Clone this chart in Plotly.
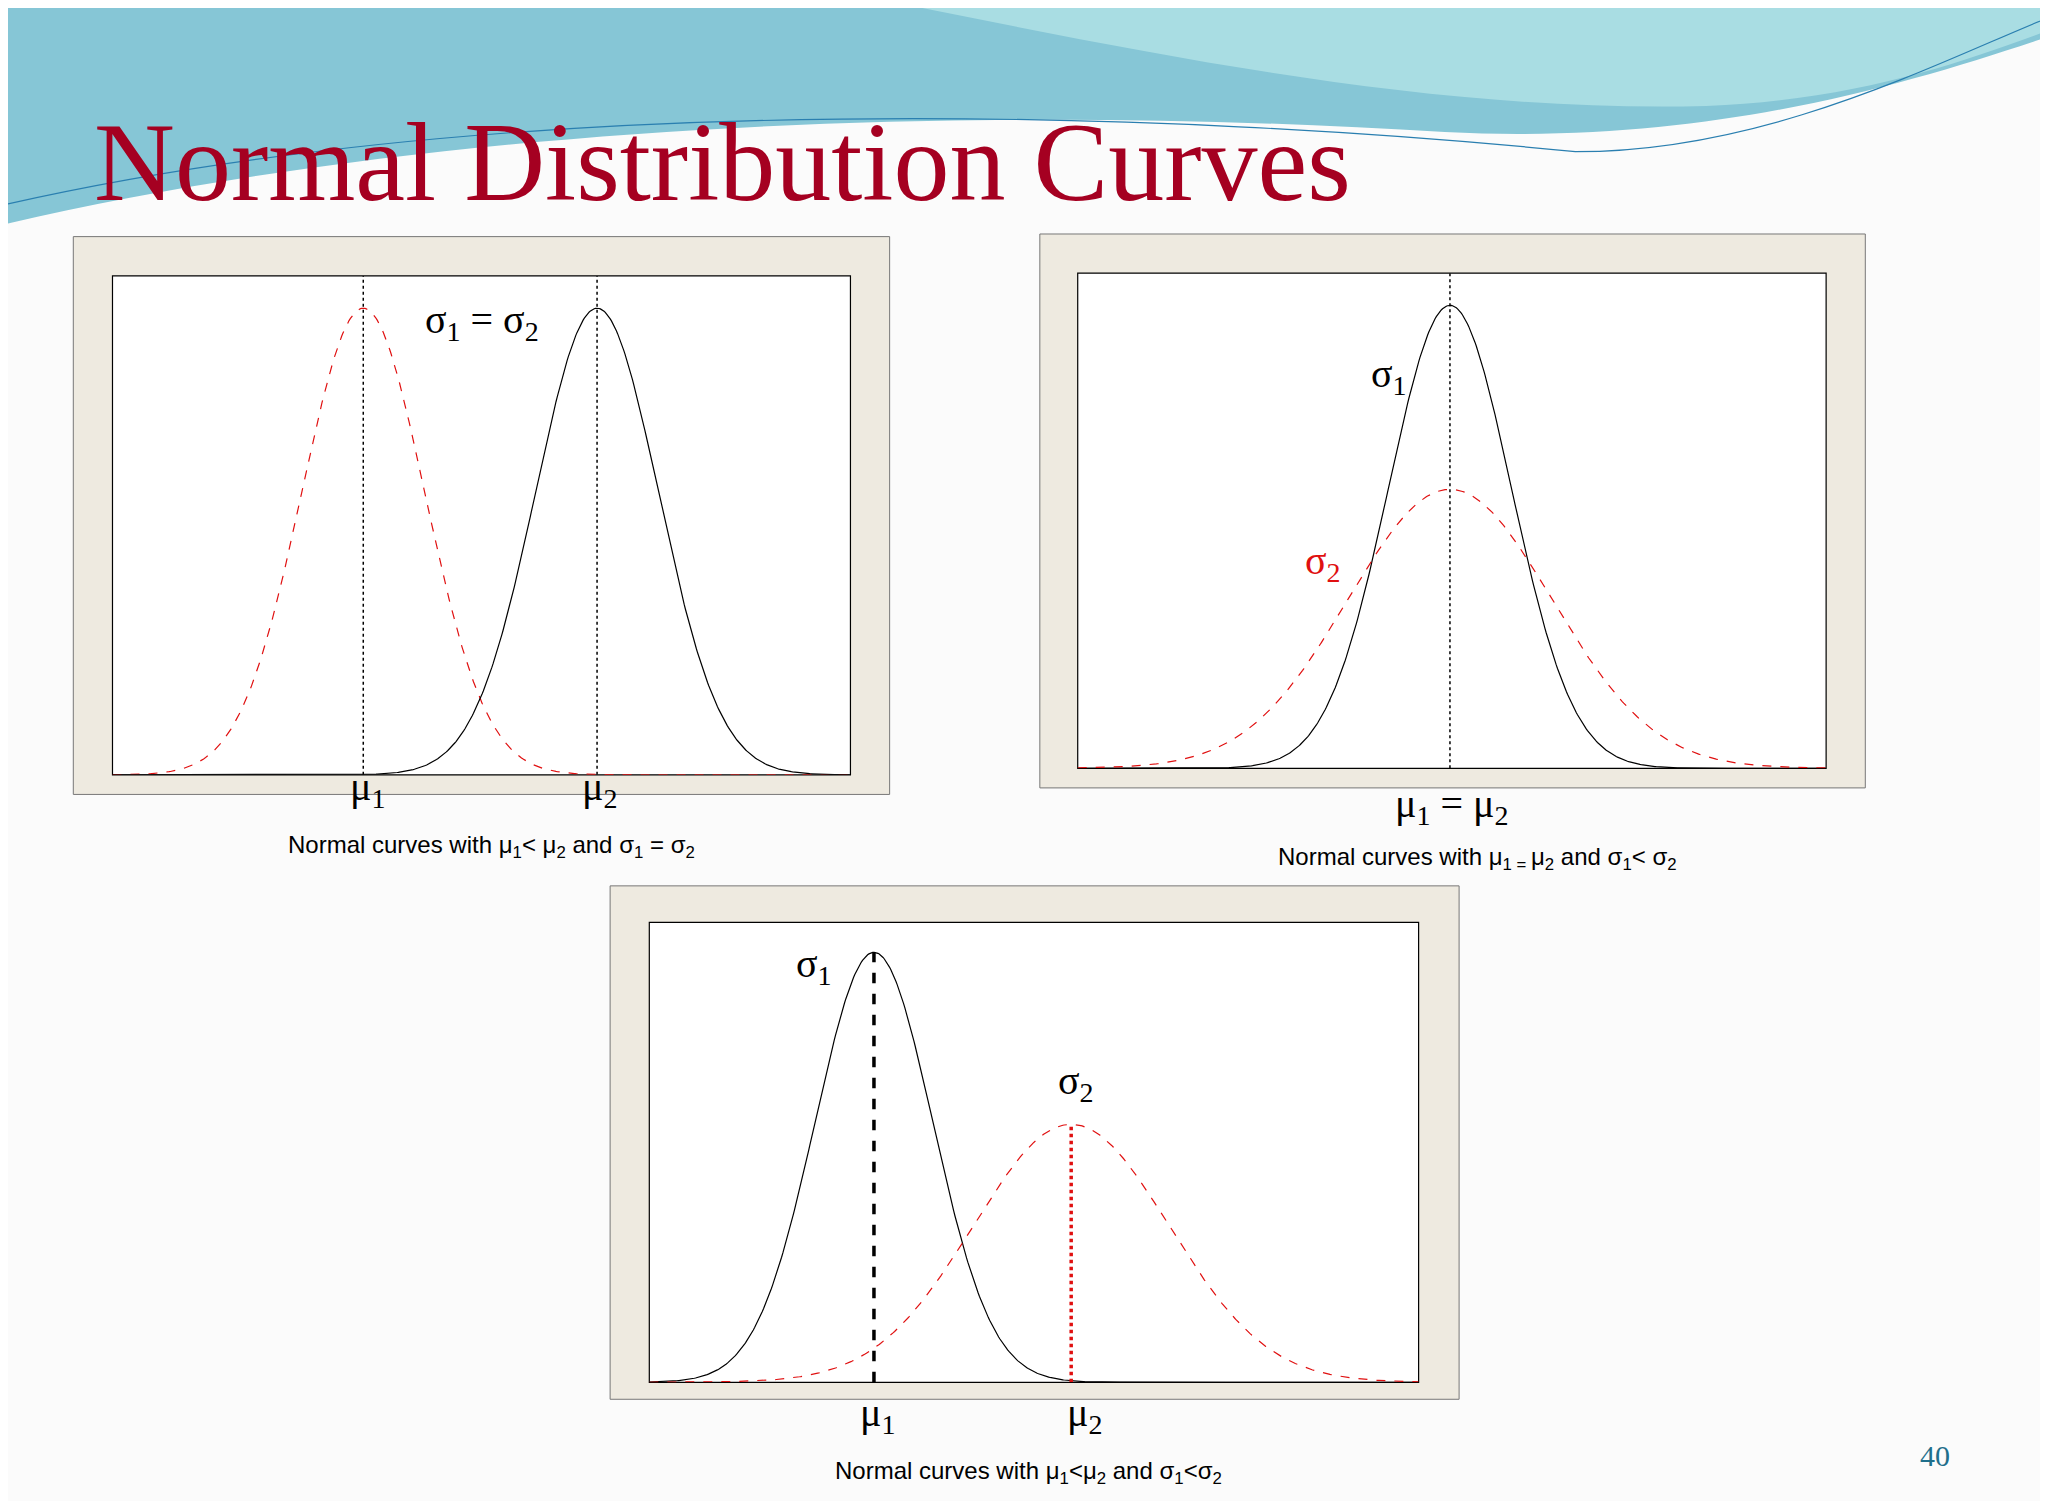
import numpy as np
import plotly.graph_objects as go

W, H = 1568.0, 1149.0
def px(x): return x / W
def py(y): return 1 - y / H

# Panel parameters (x in panel units = reference pixels from left of plot area)
p1_mu = [192, 371]; p1_sigma = [47, 47]
p2_mu = [285, 285]; p2_sigma = [47, 78]
p3_mu = [172, 323]; p3_sigma = [45, 75]
widths = [565, 573, 589]
caption_texts = ["Normal curves with μ<sub>1</sub>< μ<sub>2</sub> and σ<sub>1</sub> = σ<sub>2</sub>",
                 "Normal curves with μ<sub>1 = </sub>μ<sub>2</sub> and σ<sub>1</sub>< σ<sub>2</sub>",
                 "Normal curves with μ<sub>1</sub><μ<sub>2</sub> and σ<sub>1</sub><σ<sub>2</sub>"]

def pdf(x, m, s):
    return np.exp(-0.5 * ((x - m) / s) ** 2) / (s * np.sqrt(2 * np.pi))

fig = go.Figure()
RED = "#e01010"
panels = [
    dict(inner=(80, 205, 645, 587), outer=(50, 175, 675, 602), mu=p1_mu, sg=p1_sigma, w=widths[0]),
    dict(inner=(819, 203, 1392, 582), outer=(790, 173, 1422, 597), mu=p2_mu, sg=p2_sigma, w=widths[1]),
    dict(inner=(491, 700, 1080, 1052), outer=(461, 672, 1111, 1065), mu=p3_mu, sg=p3_sigma, w=widths[2]),
]
shapes = []
shapes.append(dict(type="path", xref="paper", yref="paper",
    path=f"M 0 1 L 0 {py(165)} C {px(300)} {py(95)}, {px(700)} {py(70)}, {px(1100)} {py(95)} C {px(1300)} {py(105)}, {px(1450)} {py(60)}, 1 {py(20)} L 1 1 Z",
    fillcolor="#86c6d6", line=dict(width=0), layer="below"))
shapes.append(dict(type="path", xref="paper", yref="paper",
    path=f"M {px(700)} 1 C {px(900)} {py(40)}, {px(1100)} {py(80)}, {px(1300)} {py(75)} C {px(1420)} {py(70)}, {px(1500)} {py(40)}, 1 {py(15)} L 1 1 Z",
    fillcolor="#a9dde3", line=dict(width=0), layer="below"))
shapes.append(dict(type="path", xref="paper", yref="paper",
    path=f"M 0 {py(150)} C {px(400)} {py(60)}, {px(900)} {py(80)}, {px(1200)} {py(110)} C {px(1350)} {py(110)}, {px(1480)} {py(40)}, 1 {py(5)}",
    line=dict(color="#2a7fb0", width=1.2)))

for i, p in enumerate(panels):
    k = "" if i == 0 else str(i + 1)
    ox0, oy0, ox1, oy1 = p["outer"]
    shapes.append(dict(type="rect", xref="paper", yref="paper", x0=px(ox0), x1=px(ox1), y0=py(oy1), y1=py(oy0),
                       fillcolor="#eeeae0", line=dict(color="#777", width=1), layer="below"))
    x0, y0, x1, y1 = p["inner"]
    shapes.append(dict(type="rect", xref="paper", yref="paper", x0=px(x0), x1=px(x1), y0=py(y1), y1=py(y0),
                       fillcolor="white", line=dict(color="black", width=1.2), layer="below"))
    ymax = pdf(0, 0, min(p["sg"])) / 0.935
    fig.update_layout(**{f"xaxis{k}": dict(domain=[px(x0), px(x1)], range=[0, p["w"]], showgrid=False, zeroline=False,
                                           anchor=f"y{k}", showticklabels=False, ticks="", showline=False),
                         f"yaxis{k}": dict(domain=[py(y1), py(y0)], range=[0, ymax], showgrid=False, zeroline=False,
                                           anchor=f"x{k}", showticklabels=False, ticks="", showline=False)})
    xs = np.linspace(0, p["w"], 600)
    xa, ya = f"x{k}", f"y{k}"
    if i == 0:
        fig.add_trace(go.Scatter(x=xs, y=pdf(xs, p["mu"][0], p["sg"][0]), mode="lines", line=dict(color=RED, dash="dash", width=1.2), xaxis=xa, yaxis=ya))
        fig.add_trace(go.Scatter(x=xs, y=pdf(xs, p["mu"][1], p["sg"][1]), mode="lines", line=dict(color="black", width=1.2), xaxis=xa, yaxis=ya))
        for m in p["mu"]:
            fig.add_trace(go.Scatter(x=[m, m], y=[0, ymax], mode="lines", line=dict(color="black", dash="dot", width=1.5), xaxis=xa, yaxis=ya))
    elif i == 1:
        fig.add_trace(go.Scatter(x=xs, y=pdf(xs, p["mu"][0], p["sg"][0]), mode="lines", line=dict(color="black", width=1.2), xaxis=xa, yaxis=ya))
        fig.add_trace(go.Scatter(x=xs, y=pdf(xs, p["mu"][1], p["sg"][1]), mode="lines", line=dict(color=RED, dash="dash", width=1.2), xaxis=xa, yaxis=ya))
        fig.add_trace(go.Scatter(x=[p["mu"][0]] * 2, y=[0, ymax], mode="lines", line=dict(color="black", dash="dot", width=1.5), xaxis=xa, yaxis=ya))
    else:
        fig.add_trace(go.Scatter(x=xs, y=pdf(xs, p["mu"][0], p["sg"][0]), mode="lines", line=dict(color="black", width=1.2), xaxis=xa, yaxis=ya))
        fig.add_trace(go.Scatter(x=xs, y=pdf(xs, p["mu"][1], p["sg"][1]), mode="lines", line=dict(color=RED, dash="dash", width=1.2), xaxis=xa, yaxis=ya))
        fig.add_trace(go.Scatter(x=[p["mu"][0]] * 2, y=[0, pdf(0, 0, p["sg"][0])], mode="lines", line=dict(color="black", dash="dash", width=3.5), xaxis=xa, yaxis=ya))
        fig.add_trace(go.Scatter(x=[p["mu"][1]] * 2, y=[0, pdf(0, 0, p["sg"][1])], mode="lines", line=dict(color=RED, dash="dot", width=3.5), xaxis=xa, yaxis=ya))

SERIF = "Liberation Serif"
def ann(x, y, t, size=40, color="black", font=SERIF, xanchor="center"):
    fig.add_annotation(x=px(x), y=py(y), xref="paper", yref="paper", text=t, showarrow=False,
                       font=dict(size=size, color=color, family=font), xanchor=xanchor, yanchor="middle")

ann(64, 118, "Normal Distribution Curves", size=112, color="#a50021", xanchor="left")
ann(363, 240, "σ<sub>1</sub> = σ<sub>2</sub>")
ann(275, 598, "μ<sub>1</sub>"); ann(453, 598, "μ<sub>2</sub>")
ann(1057, 282, "σ<sub>1</sub>"); ann(1007, 425, "σ<sub>2</sub>", color=RED)
ann(1105, 611, "μ<sub>1</sub> = μ<sub>2</sub>")
ann(617, 733, "σ<sub>1</sub>"); ann(818, 823, "σ<sub>2</sub>")
ann(666, 1077, "μ<sub>1</sub>"); ann(824, 1077, "μ<sub>2</sub>")
ann(370, 642, caption_texts[0], size=24, font="Liberation Sans")
ann(1125, 651, caption_texts[1], size=24, font="Liberation Sans")
ann(781, 1121, caption_texts[2], size=24, font="Liberation Sans")
ann(1475, 1108, "40", size=30, color="#1f6f8b")

fig.update_layout(width=2048, height=1501, margin=dict(l=0, r=0, t=0, b=0), showlegend=False,
                  paper_bgcolor="#fbfbfb", plot_bgcolor="rgba(0,0,0,0)", shapes=shapes)
fig.write_html("out.html")
